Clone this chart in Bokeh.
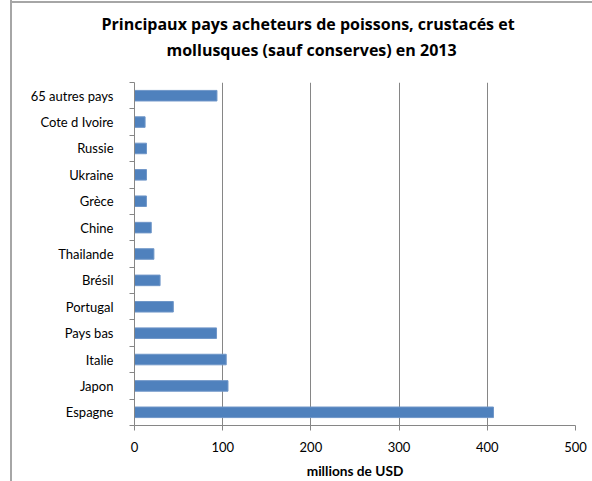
from bokeh.plotting import figure
from bokeh.models import FixedTicker, Title, ColumnDataSource
from bokeh.embed import file_html
from bokeh.resources import INLINE

categories = ["Espagne", "Japon", "Italie", "Pays bas", "Portugal", "Brésil",
              "Thailande", "Chine", "Grèce", "Ukraine", "Russie", "Cote d Ivoire",
              "65 autres pays"]
values = [407, 106, 104, 93, 44, 29, 22, 19, 13.5, 13.6, 13.6, 12, 93.5]
x_ticks = [0, 100, 200, 300, 400, 500]
title_lines = ["Principaux pays acheteurs de poissons, crustacés et",
               "mollusques (sauf conserves) en 2013"]
x_label = "millions de USD"

FONT = "Lato"
TFONT = "Open Sans"
GRAY = "#868686"
BAR = "#4F81BD"
BORDER = "#A6A6A6"

W, H = 592, 481
FL, FR, FT, FB = 134, 575, 82, 426   # frame edges in canvas pixels

n = len(categories)
centers = [i + 0.5 for i in range(n)]
bounds = list(range(n + 1))

p = figure(width=W, height=H, output_backend="svg", toolbar_location=None,
           title=None, x_range=(0, 500), y_range=(0, n),
           min_border_left=FL, min_border_right=W - FR, min_border_top=FT,
           min_border_bottom=H - FB)
p.outline_line_color = None
p.background_fill_color = "white"
p.border_fill_alpha = 0
# chart border: left and top edges, drawn behind the transparent canvas
p.styles = {
    "background": (f"linear-gradient({BORDER},{BORDER}) 10px 0px / 2px 100% no-repeat, "
                   f"linear-gradient({BORDER},{BORDER}) 10px 1px / 100% 2px no-repeat, "
                   "white"),
}

src = ColumnDataSource(dict(y=centers, v=values, cat=categories))
p.hbar(y="y", right="v", left=0, height=0.4, source=src,
       fill_color=BAR, line_color="#6F96C8", line_width=1)

# x axis
p.xaxis.ticker = FixedTicker(ticks=x_ticks)
p.xaxis.axis_line_color = GRAY
p.xaxis.major_tick_line_color = GRAY
p.xaxis.major_tick_out = 5
p.xaxis.major_tick_in = 0
p.xaxis.minor_tick_line_color = None
p.xaxis.major_label_text_font = FONT
p.xaxis.major_label_text_font_size = "13px"
p.xaxis.major_label_text_color = "black"
p.xaxis.major_label_standoff = 11
p.xaxis.axis_label = x_label
p.xaxis.axis_label_text_font = FONT
p.xaxis.axis_label_text_font_size = "13.7px"
p.xaxis.axis_label_text_font_style = "bold"
p.xaxis.axis_label_text_color = "black"
p.xaxis.axis_label_standoff = 7

# y axis
p.yaxis.ticker = FixedTicker(ticks=centers, minor_ticks=bounds)
p.yaxis.major_label_overrides = {c: name for c, name in zip(centers, categories)}
p.yaxis.axis_line_color = GRAY
p.yaxis.major_tick_line_color = None
p.yaxis.major_tick_out = 0
p.yaxis.major_tick_in = 0
p.yaxis.minor_tick_line_color = GRAY
p.yaxis.minor_tick_out = 5
p.yaxis.minor_tick_in = 0
p.yaxis.major_label_text_font = FONT
p.yaxis.major_label_text_font_size = "13px"
p.yaxis.major_label_text_color = "black"
p.yaxis.major_label_standoff = 16

# grids
p.xgrid.grid_line_color = GRAY
p.xgrid.ticker = FixedTicker(ticks=x_ticks)
p.ygrid.grid_line_color = None

# titles stack outward from the frame: a blank spacer first, then line 2, then line 1
p.add_layout(Title(text=" ", text_font=TFONT, text_font_size="1px", standoff=18), "above")
title_offsets = [-33, 32]
for t, off in reversed(list(zip(title_lines, title_offsets))):
    p.add_layout(Title(text=t, align="left", offset=off, standoff=2,
                       text_font=TFONT, text_font_size="16px",
                       text_font_style="bold", text_color="black"), "above")

open("out.html", "w").write(file_html(p, INLINE))
